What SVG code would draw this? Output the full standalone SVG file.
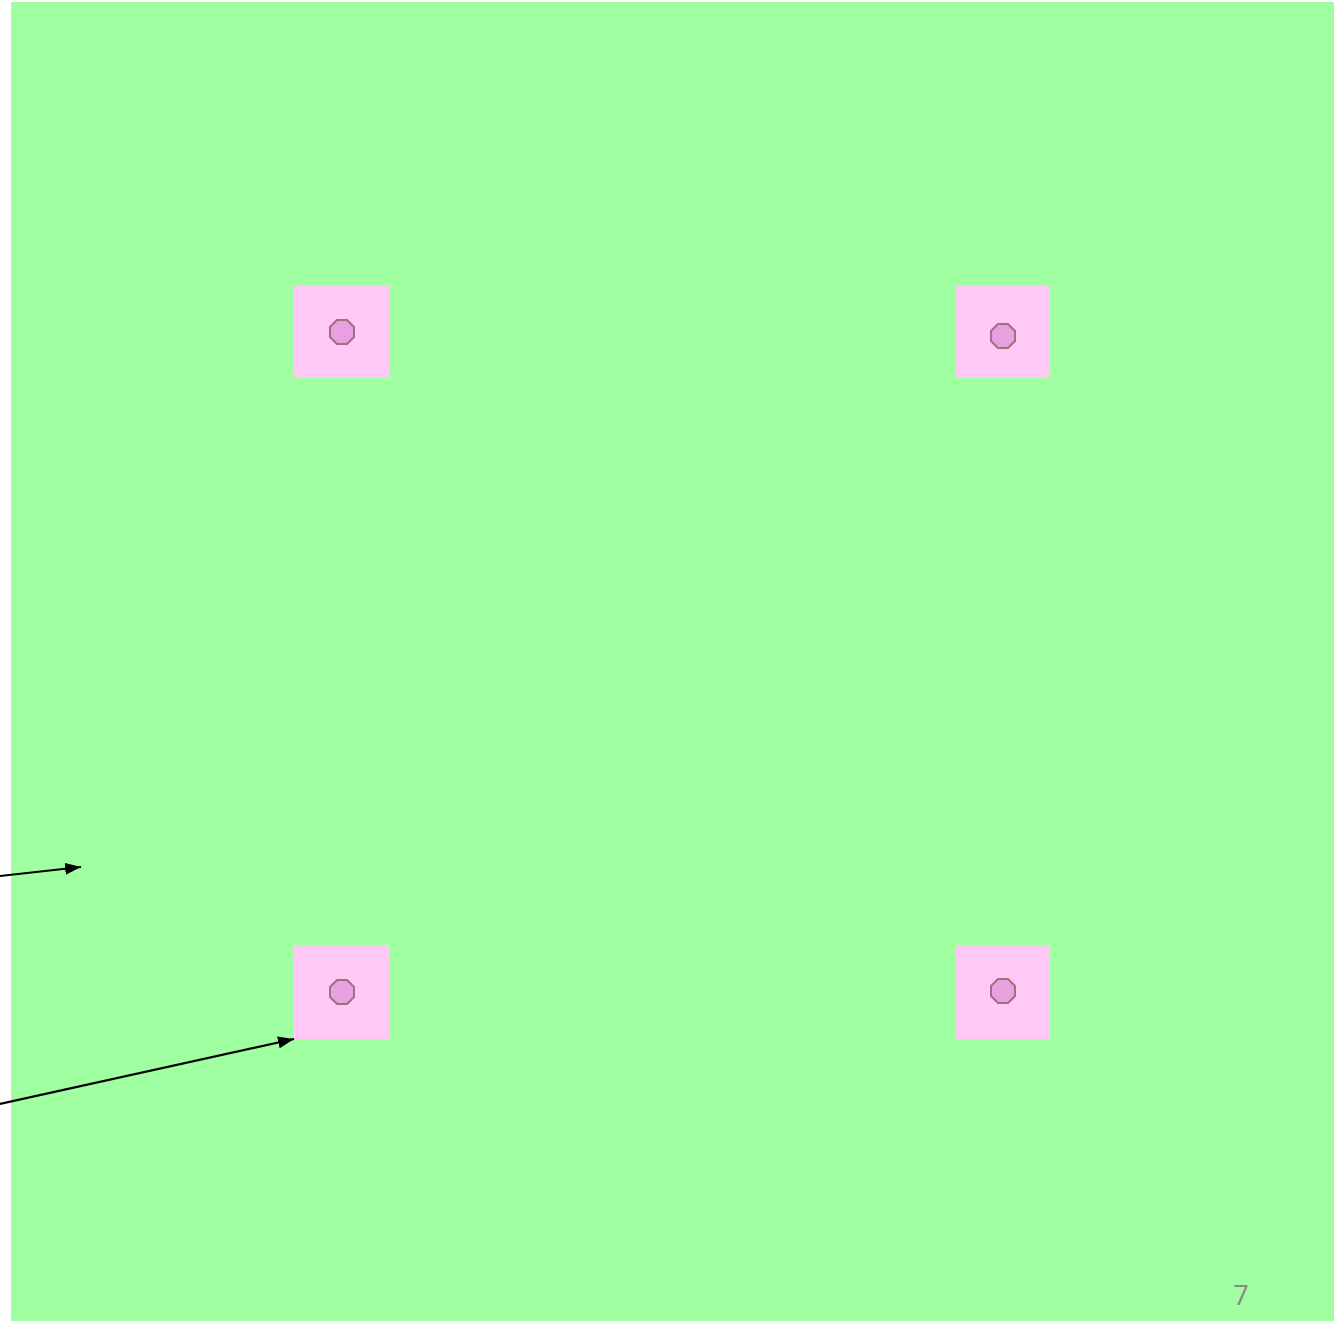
<svg xmlns="http://www.w3.org/2000/svg" width="1343" height="1322" viewBox="0 0 1343 1322">
<style>
.bg{fill:#a0ffa0}
.pad{fill:#ffc8f5}
.oct{fill:#e8a0e0;stroke:#a07080;stroke-width:2}
.conn{stroke:#000;stroke-width:2.2;fill:none}
.num{font-family:"Open Sans","Liberation Sans",Arial,sans-serif;font-size:27px;fill:#888888}
</style>
<defs>
<marker id="ah" viewBox="0 0 16 12" refX="16" refY="6" markerWidth="16" markerHeight="12" markerUnits="userSpaceOnUse" orient="auto">
<path d="M0,0 L16,6 L0,12 z" fill="#000"/>
</marker>
<polygon id="octo" points="5,-12 12,-5 12,5 5,12 -5,12 -12,5 -12,-5 -5,-12"/>
</defs>
<rect class="bg" x="11" y="2" width="1323" height="1319"/>
<g id="node-tl"><rect class="pad" x="294" y="286" width="95" height="92"/><use href="#octo" class="oct" x="342" y="332"/></g>
<g id="node-tr"><rect class="pad" x="956" y="286" width="94" height="92"/><use href="#octo" class="oct" x="1003" y="336"/></g>
<g id="node-bl"><rect class="pad" x="294" y="945" width="95" height="94"/><use href="#octo" class="oct" x="342" y="992"/></g>
<g id="node-br"><rect class="pad" x="956" y="945" width="94" height="94"/><use href="#octo" class="oct" x="1003" y="991"/></g>
<g id="connectors">
<line class="conn" x1="0" y1="876" x2="81" y2="867" marker-end="url(#ah)"/>
<line class="conn" x1="0" y1="1104" x2="294" y2="1039" marker-end="url(#ah)"/>
</g>
<text class="num" x="1241" y="1305" text-anchor="middle">7</text>
</svg>
